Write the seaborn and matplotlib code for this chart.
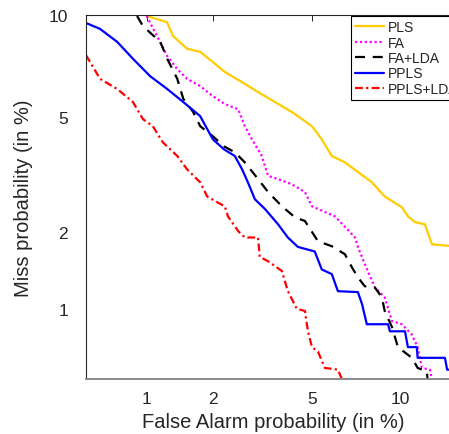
import math

import matplotlib

matplotlib.use("Agg")
import matplotlib.pyplot as plt  # noqa: E402
import numpy as np  # noqa: E402
import seaborn as sns  # noqa: E402

# DET curves, values in percent (false alarm, miss)
pls_fa = [1.0, 1.245, 1.33, 1.54, 1.76, 2.0, 2.25, 2.66, 3.09, 3.61, 4.20, 4.99,
          5.42, 5.89, 6.55, 7.26, 8.09, 8.91, 10.10, 10.55, 11.08, 11.88, 12.47, 15.0]
pls_miss = [9.94, 9.57, 8.75, 8.05, 7.89, 7.37, 6.89, 6.42, 5.99, 5.58, 5.19, 4.68,
            4.24, 3.73, 3.55, 3.29, 3.03, 2.70, 2.47, 2.29, 2.18, 2.14, 1.80, 1.76]

fa_fa = [1.0, 1.12, 1.25, 1.39, 1.54, 1.76, 2.0, 2.25, 2.56, 2.73, 2.92, 3.20, 3.39,
         3.71, 4.20, 4.70, 4.99, 6.04, 7.10, 7.26, 7.66, 8.28, 8.91, 9.40, 10.10,
         10.85, 11.3, 11.64, 12.3, 12.45]
fa_miss = [9.94, 8.75, 7.67, 7.02, 6.57, 6.25, 5.82, 5.50, 5.30, 4.68, 4.24, 3.73,
           3.19, 3.11, 2.98, 2.80, 2.49, 2.29, 1.91, 1.76, 1.51, 1.22, 1.115, 0.89,
           0.863, 0.78, 0.69, 0.56, 0.55, 0.50]

falda_fa = [0.90, 0.96, 1.16, 1.25, 1.39, 1.48, 1.64, 1.76, 2.0, 2.23, 2.48, 2.73,
            3.09, 3.39, 3.84, 4.31, 4.70, 5.25, 5.89, 6.55, 6.92, 7.26, 7.66, 8.28,
            8.72, 8.91, 9.40, 9.82, 10.85, 11.3, 12.04, 12.1]
falda_miss = [9.94, 9.33, 8.42, 7.53, 6.57, 5.71, 5.19, 4.68, 4.34, 4.02, 3.84, 3.55,
              3.11, 2.80, 2.49, 2.27, 2.20, 1.85, 1.77, 1.65, 1.47, 1.34, 1.235, 1.22,
              1.115, 0.98, 0.84, 0.69, 0.62, 0.56, 0.54, 0.50]

ppls_fa = [0.50, 0.59, 0.72, 0.86, 1.04, 1.25, 1.48, 1.76, 2.0, 2.23, 2.48, 2.66,
           2.81, 3.0, 3.30, 3.71, 4.05, 4.42, 5.11, 5.42, 5.89, 6.19, 7.26, 7.50,
           7.78, 9.13, 9.26, 10.33, 10.55, 11.23, 11.3, 13.6, 13.8, 15.0]
ppls_miss = [9.51, 9.16, 8.42, 7.53, 6.69, 6.12, 5.58, 5.04, 4.24, 3.93, 3.73, 3.36,
             3.03, 2.64, 2.43, 2.14, 1.91, 1.76, 1.69, 1.44, 1.38, 1.18, 1.17, 1.045,
             0.863, 0.863, 0.806, 0.806, 0.69, 0.69, 0.62, 0.62, 0.55, 0.55]

pplslda_fa = [0.50, 0.59, 0.72, 0.86, 0.96, 1.07, 1.19, 1.39, 1.54, 1.76, 1.89, 2.08,
              2.25, 2.32, 2.56, 2.73, 3.09, 3.14, 3.39, 3.84, 4.05, 4.38, 4.70, 4.82,
              4.99, 5.25, 5.56, 6.19, 6.39, 6.71]
pplslda_miss = [7.72, 6.57, 6.12, 5.58, 4.93, 4.68, 4.15, 3.73, 3.36, 3.03, 2.70, 2.58,
                2.49, 2.29, 2.02, 1.91, 1.91, 1.61, 1.55, 1.42, 1.18, 1.00, 0.98, 0.81,
                0.69, 0.66, 0.56, 0.55, 0.50, 0.50]

labels = ["PLS", "FA", "FA+LDA", "PPLS", "PPLS+LDA"]
tick_values = [1, 2, 5, 10]
tick_labels = ["1", "2", "5", "10"]

# Acklam's rational approximation of the normal quantile function
_A = [-3.969683028665376e+01, 2.209460984245205e+02, -2.759285104469687e+02,
      1.383577518672690e+02, -3.066479806614716e+01, 2.506628277459239e+00]
_B = [-5.447609879822406e+01, 1.615858368580409e+02, -1.556989798598866e+02,
      6.680131188771972e+01, -1.328068155288572e+01]
_C = [-7.784894002430293e-03, -3.223964580411365e-01, -2.400758277161838e+00,
      -2.549732539343734e+00, 4.374664141464968e+00, 2.938163982698783e+00]
_D = [7.784695709041462e-03, 3.224671290700398e-01, 2.445134137142996e+00,
      3.754408661907416e+00]


def _tail(q):
    num = ((((_C[0] * q + _C[1]) * q + _C[2]) * q + _C[3]) * q + _C[4]) * q + _C[5]
    den = (((_D[0] * q + _D[1]) * q + _D[2]) * q + _D[3]) * q + 1
    return num / den


def probit(pct):
    p = np.clip(np.asarray(pct, dtype=float) / 100.0, 1e-12, 1 - 1e-12)
    q = p - 0.5
    r = q * q
    central = ((((((_A[0] * r + _A[1]) * r + _A[2]) * r + _A[3]) * r + _A[4]) * r + _A[5]) * q
               / (((((_B[0] * r + _B[1]) * r + _B[2]) * r + _B[3]) * r + _B[4]) * r + 1))
    low = _tail(np.sqrt(-2 * np.log(p)))
    high = -_tail(np.sqrt(-2 * np.log(1 - p)))
    return np.where(p < 0.02425, low, np.where(p > 0.97575, high, central))


_erf = np.vectorize(math.erf, otypes=[float])


def inv_probit(z):
    z = np.asarray(z, dtype=float)
    return 50.0 * (1.0 + _erf(z / math.sqrt(2.0)))


sns.set_style("white")
plt.rcParams["font.family"] = ["Liberation Sans", "DejaVu Sans"]

fig = plt.figure(figsize=(4.49, 4.35), dpi=100)
ax = fig.add_axes([86 / 449, 55 / 435, 374 / 449, 364 / 435])

series = [
    (pls_fa, pls_miss, "#FFCC00", "-"),
    (fa_fa, fa_miss, "#FF00FF", (0, (1, 1.2))),
    (falda_fa, falda_miss, "black", (0, (4.5, 3.5))),
    (ppls_fa, ppls_miss, "#0000FF", "-"),
    (pplslda_fa, pplslda_miss, "#FF0000", (0, (3.5, 1.5, 1, 1.5))),
]
for label, (xs, ys, color, ls) in zip(labels, series):
    sns.lineplot(x=xs, y=ys, ax=ax, color=color, linestyle=ls, linewidth=1.6,
                 label=label, sort=False, estimator=None)

ax.set_xscale("function", functions=(probit, inv_probit))
ax.set_yscale("function", functions=(probit, inv_probit))
ax.set_xlim(0.5, 15)
ax.set_ylim(0.5, 10)
ax.set_xticks(tick_values)
ax.set_xticklabels(tick_labels)
ax.set_yticks(tick_values)
ax.set_yticklabels(tick_labels)
ax.minorticks_off()

ax.tick_params(axis="both", direction="in", length=4, width=0.7, colors="#262626",
               labelsize=12.5, top=True, right=True)
ax.tick_params(axis="x", pad=9)
ax.tick_params(axis="y", pad=13)
for side in ["left", "top", "right"]:
    ax.spines[side].set_color("#262626")
    ax.spines[side].set_linewidth(0.8)
ax.spines["bottom"].set_color("#8a8a8a")
ax.spines["bottom"].set_linewidth(1.4)

ax.set_xlabel("False Alarm probability (in %)", fontsize=14.5, color="#262626", labelpad=4)
ax.set_ylabel("Miss probability (in %)", fontsize=14.5, color="#262626", labelpad=11)

leg = ax.legend(loc="upper left", bbox_to_anchor=(0.7086, 0.997), borderaxespad=0,
                fancybox=False, edgecolor="black", framealpha=1, fontsize=10,
                handlelength=2.05, handletextpad=0.28, labelspacing=0.1, borderpad=0.3)
leg.get_frame().set_linewidth(0.8)

fig.savefig("out.png", dpi=100)
plt.close(fig)
